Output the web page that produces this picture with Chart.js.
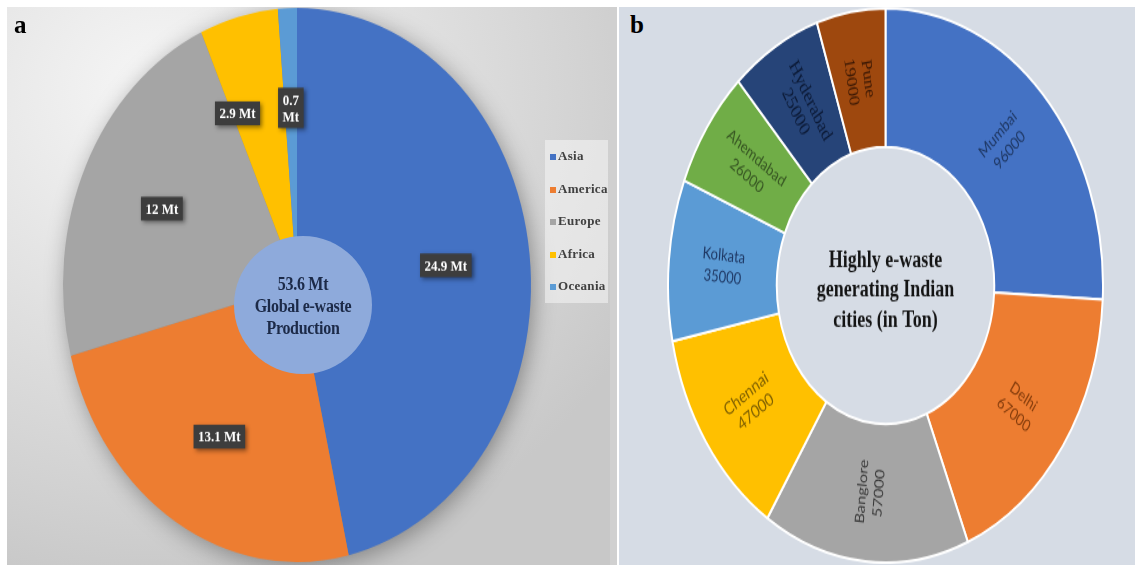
<!DOCTYPE html>
<html>
<head>
<meta charset="utf-8">
<script src="https://cdn.jsdelivr.net/npm/chart.js@4.4.1/dist/chart.umd.min.js"></script>
<style>
  html, body { margin: 0; padding: 0; background: #ffffff; width: 1135px; height: 569px; overflow: hidden; }
  .panel { position: absolute; top: 7px; height: 558px; overflow: hidden; }
  #panelA {
    left: 7px; width: 603px;
    background: radial-gradient(ellipse 90% 90% at 25% 15%, #f6f6f6 0%, #e2e2e2 45%, #d2d2d2 80%, #c8c8c8 100%);
  }
  #sep { position: absolute; left: 610px; top: 7px; width: 7px; height: 558px; background: #d0d0d0; }
  #panelB { left: 619px; width: 516px; background: #d6dce5; }
  .tag { position: absolute; top: 5px; font: bold 25px "Liberation Serif", serif; color: #000; line-height: 25px; }
  #wrapA { position: absolute; left: 10px; top: -2px; width: 560px; height: 560px; transform: scaleY(1.184); transform-origin: 50% 50%; }
  #wrapB { position: absolute; left: 48px; top: 60px; width: 437px; height: 437px; transform: scaleY(1.274); transform-origin: 50% 50%; }
  #hubA {
    position: absolute; left: 227px; top: 229px; width: 138px; height: 138px; border-radius: 50%;
    background: #8eaadb; display: flex; align-items: center; justify-content: center;
  }
  #hubA div {
    font: bold 16px "Liberation Serif", serif; color: #1c2a48; line-height: 19px; text-align: center;
    transform: scaleY(1.16); letter-spacing: -0.3px;
  }
  #legendA {
    position: absolute; left: 538px; top: 133px; width: 63px; height: 163px;
    background: rgba(245,245,245,0.55); padding-top: 8px; box-sizing: border-box;
  }
  #legendA .item {
    height: 32.5px; display: flex; align-items: flex-start; padding-left: 5px;
    font: bold 13px "Liberation Serif", serif; color: #404040; letter-spacing: 0.3px;
  }
  #legendA .sw { width: 6px; height: 6px; margin: 6px 2px 0 0; flex: none; }
</style>
</head>
<body>
<div id="panelA" class="panel">
  <div id="wrapA"><canvas id="chartA" width="560" height="560"></canvas></div>
  <div id="hubA"><div>53.6 Mt<br>Global e-waste<br>Production</div></div>
  <div id="legendA"></div>
  <div class="tag" style="left:7px;">a</div>
</div>
<div id="sep"></div>
<div id="panelB" class="panel">
  <div id="wrapB"><canvas id="chartB" width="437" height="437"></canvas></div>
  <div class="tag" style="left:11px;">b</div>
</div>

<script>
// ---- Global e-waste production by region (Mt) ----
const regions = ['Asia', 'America', 'Europe', 'Africa', 'Oceania'];
const regionMt = [24.9, 13.1, 12, 2.9, 0.7];
const regionColors = ['#4472c4', '#ed7d31', '#a5a5a5', '#ffc000', '#5b9bd5'];

// ---- Indian cities generating the most e-waste (tonnes) ----
const cities = ['Mumbai', 'Delhi', 'Banglore', 'Chennai', 'Kolkata', 'Ahemdabad', 'Hyderabad', 'Pune'];
const cityTons = [96000, 67000, 57000, 47000, 35000, 26000, 25000, 19000];
const cityColors = ['#4472c4', '#ed7d31', '#a5a5a5', '#ffc000', '#5b9bd5', '#70ad47', '#264478', '#9e480e'];
const cityTextColors = ['#1f3864', '#843c0c', '#3a3a3a', '#7f6000', '#1f3864', '#375623', '#0c1a36', '#3a1805'];
const cityFonts = ['13px Lato', '13px Lato', '13px Lato', '14px Lato', '13px Lato', '13px Lato',
                   '16px "Liberation Serif"', '15px "Liberation Serif"'];
const hubLines = ['Highly e-waste', 'generating Indian', 'cities (in Ton)'];

// legend for panel a, built from the region list
const legendA = document.getElementById('legendA');
regions.forEach((r, i) => {
  const it = document.createElement('div');
  it.className = 'item';
  it.innerHTML = `<span class="sw" style="background:${regionColors[i]}"></span>${r}`;
  legendA.appendChild(it);
});

// soft drop shadow underneath the whole pie
const pieShadow = {
  id: 'pieShadow',
  beforeDatasetsDraw(chart) {
    const arc = chart.getDatasetMeta(0).data[0];
    if (!arc) return;
    const { x, y, outerRadius } = arc.getProps(['x', 'y', 'outerRadius'], true);
    const ctx = chart.ctx;
    ctx.save();
    ctx.shadowColor = 'rgba(0,0,0,0.38)';
    ctx.shadowBlur = 22;
    ctx.shadowOffsetX = 3;
    ctx.shadowOffsetY = 4;
    ctx.fillStyle = '#888';
    ctx.beginPath();
    ctx.arc(x, y, outerRadius - 1, 0, Math.PI * 2);
    ctx.fill();
    ctx.restore();
  }
};

// dark value boxes ("24.9 Mt") placed inside each slice
const valueBoxes = {
  id: 'valueBoxes',
  afterDatasetsDraw(chart) {
    const ctx = chart.ctx;
    const meta = chart.getDatasetMeta(0);
    ctx.save();
    ctx.font = 'bold 13px "Liberation Serif"';
    const lineH = 14;
    const placed = [];
    for (let i = meta.data.length - 1; i >= 0; i--) {
      const p = meta.data[i].getProps(['x', 'y', 'startAngle', 'endAngle', 'outerRadius'], true);
      const mid = (p.startAngle + p.endAngle) / 2;
      const r = p.outerRadius * 0.64;
      let cx = p.x + Math.cos(mid) * r;
      const cy = p.y + Math.sin(mid) * r;
      const text = `${regionMt[i]} Mt`;
      const arcLen = (p.endAngle - p.startAngle) * r;
      const lines = ctx.measureText(text).width + 10 > arcLen ? text.split(' ') : [text];
      const w = Math.max(...lines.map(l => ctx.measureText(l).width)) + 9;
      const h = lines.length * lineH + 6;
      // keep boxes of neighbouring thin slices apart
      placed.forEach(b => {
        const overlapY = Math.abs(cy - b.cy) < (h + b.h) / 2;
        const minDx = (w + b.w) / 2 + 18;
        if (overlapY && Math.abs(cx - b.cx) < minDx) {
          cx = cx < b.cx ? b.cx - minDx : b.cx + minDx;
        }
      });
      placed.push({ cx, cy, w, h });
      ctx.shadowColor = 'rgba(0,0,0,0.45)';
      ctx.shadowBlur = 4;
      ctx.shadowOffsetX = 2;
      ctx.shadowOffsetY = 2;
      ctx.fillStyle = '#3d3d3d';
      ctx.fillRect(cx - w / 2, cy - h / 2, w, h);
      ctx.shadowColor = 'transparent';
      ctx.fillStyle = '#ffffff';
      ctx.textAlign = 'center';
      ctx.textBaseline = 'middle';
      lines.forEach((l, k) => {
        ctx.fillText(l, cx, cy + (k - (lines.length - 1) / 2) * lineH + 1);
      });
    }
    ctx.restore();
  }
};

// radial city labels and the title in the hole of the ring
const ringLabels = {
  id: 'ringLabels',
  afterDatasetsDraw(chart) {
    const ctx = chart.ctx;
    const meta = chart.getDatasetMeta(0);
    ctx.save();
    ctx.textAlign = 'center';
    ctx.textBaseline = 'middle';
    let hub = null;
    meta.data.forEach((arc, i) => {
      const p = arc.getProps(['x', 'y', 'startAngle', 'endAngle', 'innerRadius', 'outerRadius'], true);
      hub = p;
      const mid = (p.startAngle + p.endAngle) / 2;
      const r = (p.innerRadius + p.outerRadius) / 2;
      let rot = mid;
      while (rot > Math.PI / 2) rot -= Math.PI;
      while (rot <= -Math.PI / 2) rot += Math.PI;
      ctx.save();
      ctx.translate(p.x + Math.cos(mid) * r, p.y + Math.sin(mid) * r);
      ctx.rotate(rot);
      ctx.font = cityFonts[i];
      ctx.fillStyle = cityTextColors[i];
      const lh = 17;
      ctx.fillText(cities[i], 0, -lh / 2);
      ctx.fillText(String(cityTons[i]), 0, lh / 2);
      ctx.restore();
    });
    if (hub) {
      ctx.font = 'bold 18px "Liberation Serif"';
      ctx.fillStyle = '#141414';
      const lh = 23.5;
      hubLines.forEach((l, k) => {
        ctx.fillText(l, hub.x, hub.y + 4 + (k - 1) * lh);
      });
    }
    ctx.restore();
  }
};

const common = {
  responsive: false,
  animation: false,
  events: [],
  plugins: { legend: { display: false }, tooltip: { enabled: false } }
};

new Chart(document.getElementById('chartA'), {
  type: 'pie',
  data: {
    labels: regions,
    datasets: [{ data: regionMt, backgroundColor: regionColors, borderWidth: 0, hoverOffset: 0 }]
  },
  options: { ...common, layout: { padding: 46 } },
  plugins: [pieShadow, valueBoxes]
});

new Chart(document.getElementById('chartB'), {
  type: 'doughnut',
  data: {
    labels: cities,
    datasets: [{ data: cityTons, backgroundColor: cityColors, borderColor: '#ffffff', borderWidth: 2, hoverOffset: 0 }]
  },
  options: { ...common, cutout: '50%', layout: { padding: 0 } },
  plugins: [ringLabels]
});
</script>
</body>
</html>
